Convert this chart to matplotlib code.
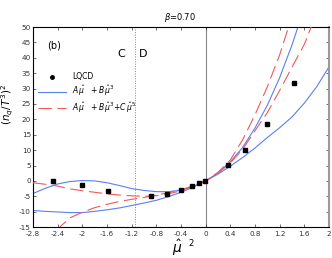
import matplotlib
matplotlib.use("Agg")
import matplotlib.pyplot as plt
from matplotlib.lines import Line2D

# LQCD data points
lqcd_x = [-2.47, -2.0, -1.59, -0.89, -0.63, -0.40, -0.22, -0.11, -0.01, 0.36, 0.64, 1.0, 1.44]
lqcd_y = [0.1, -1.4, -3.3, -4.9, -4.2, -3.0, -1.8, -0.8, 0.1, 5.1, 10.0, 18.4, 31.7]

# Fit A mu + B mu^3 (two bounding curves)
b1_x = [-2.8, -2.6, -2.4, -2.2, -2.0, -1.8, -1.6, -1.4, -1.2, -1.0, -0.8, -0.6, -0.4, -0.2, 0.0,
        0.2, 0.4, 0.6, 0.8, 1.0, 1.2, 1.4, 1.5, 1.55]
b1_y = [-4.1, -2.4, -1.0, -0.2, 0.1, 0.0, -0.6, -1.5, -2.5, -3.1, -3.5, -3.5, -3.0, -1.8, 0.0,
        2.6, 6.2, 10.9, 17.2, 24.6, 33.6, 44.2, 50.3, 53.3]
b2_x = [-2.8, -2.6, -2.4, -2.2, -2.0, -1.8, -1.6, -1.4, -1.2, -1.0, -0.8, -0.6, -0.4, -0.2, 0.0,
        0.2, 0.4, 0.6, 0.8, 1.0, 1.2, 1.4, 1.6, 1.8, 2.0]
b2_y = [-9.6, -9.9, -10.1, -10.3, -10.3, -9.9, -9.4, -8.8, -8.0, -7.2, -6.3, -5.1, -3.7, -2.0, 0.0,
        2.2, 4.8, 7.6, 10.7, 14.1, 17.3, 20.8, 25.3, 30.6, 37.1]

# Fit A mu + B mu^3 + C mu^5 (two bounding curves)
r1_x = [-2.8, -2.6, -2.4, -2.2, -2.0, -1.8, -1.6, -1.4, -1.2, -1.0, -0.8, -0.6, -0.4, -0.2, 0.0,
        0.2, 0.4, 0.6, 0.8, 1.0, 1.2, 1.4, 1.6, 1.72]
r1_y = [-0.6, -1.1, -1.7, -2.6, -3.2, -3.7, -4.2, -4.6, -4.85, -5.0, -4.8, -4.2, -3.2, -1.7, 0.0,
        2.5, 5.8, 10.3, 16.3, 22.2, 29.4, 37.0, 44.4, 50.5]
r2_x = [-2.42, -2.36, -2.2, -2.0, -1.8, -1.6, -1.4, -1.2, -1.0, -0.8, -0.6, -0.4, -0.2, 0.0,
        0.2, 0.4, 0.6, 0.8, 1.0, 1.2, 1.34, 1.37]
r2_y = [-16.2, -14.9, -12.0, -10.2, -8.7, -7.6, -6.7, -6.0, -5.4, -4.6, -3.8, -2.9, -1.6, 0.0,
        2.8, 6.8, 13.4, 21.5, 30.6, 41.0, 49.8, 51.8]

x_ticks = [-2.8, -2.4, -2.0, -1.6, -1.2, -0.8, -0.4, 0.0, 0.4, 0.8, 1.2, 1.6, 2.0]
x_labels = ["-2.8", "-2.4", "-2", "-1.6", "-1.2", "-0.8", "-0.4", "0", "0.4", "0.8", "1.2", "1.6", "2"]
y_ticks = [-15, -10, -5, 0, 5, 10, 15, 20, 25, 30, 35, 40, 45, 50]
y_labels = ["-15", "-10", "-5", "0", "5", "10", "15", "20", "25", "30", "35", "40", "45", "50"]

phase_boundary = -1.15

BLUE = "#5a7ff0"
RED = "#f05a5a"

fig = plt.figure(figsize=(3.32, 2.58), dpi=100)
ax = fig.add_axes([0.0994, 0.120, 0.8916, 0.775])

ax.axvline(0, color="#888888", lw=0.8, zorder=1)
ax.axvline(phase_boundary, color="#888888", lw=0.7, ls=(0, (1, 1.5)), zorder=1)

ax.plot(b1_x, b1_y, color=BLUE, lw=0.8, zorder=2)
ax.plot(b2_x, b2_y, color=BLUE, lw=0.8, zorder=2)
ax.plot(r1_x, r1_y, color=RED, lw=0.8, dashes=(12, 5), zorder=3)
ax.plot(r2_x, r2_y, color=RED, lw=0.8, dashes=(12, 5), zorder=3)
ax.plot(lqcd_x, lqcd_y, ls="none", marker="s", ms=2.2, color="black", zorder=4)

ax.set_xlim(-2.8, 2.0)
ax.set_ylim(-15, 50)
ax.set_xticks(x_ticks)
ax.set_xticklabels(x_labels)
ax.set_yticks(y_ticks)
ax.set_yticklabels(y_labels)
ax.tick_params(direction="in", length=2.5, width=0.5, labelsize=5.2, colors="#333333",
               top=True, right=True, pad=1.5)
ax.tick_params(axis="x", pad=3.0)
for s in ["left", "top", "bottom"]:
    ax.spines[s].set_linewidth(0.8)
    ax.spines[s].set_color("black")
ax.spines["right"].set_color("#999999")
ax.spines["right"].set_linewidth(1.5)

ax.text(0.047, 0.91, "(b)", transform=ax.transAxes, fontsize=7, ha="left", va="center")
ax.text(-1.37, 41.2, "C", fontsize=8, ha="center", va="center")
ax.text(-1.02, 41.2, "D", fontsize=8, ha="center", va="center")

handles = [
    Line2D([], [], ls="none", marker="o", ms=2.5, color="black"),
    Line2D([], [], color=BLUE, lw=0.8),
    Line2D([], [], color=RED, lw=0.8, dashes=(12, 5)),
]
labels = ["LQCD",
          r"$A\,\hat{\mu}\ \ +B\,\hat{\mu}^3$",
          r"$A\,\hat{\mu}\ \ +B\,\hat{\mu}^3\!+\!C\,\hat{\mu}^5$"]
ax.legend(handles, labels, loc="upper left", bbox_to_anchor=(0.0, 0.80), frameon=False,
          fontsize=5.5, handlelength=3.6, handletextpad=0.8, labelspacing=0.3, borderpad=0.2)

fig.text(180 / 332, 1 - 17 / 258, r"$\beta$=0.70", fontsize=6, ha="center", va="center")
fig.text(8 / 332, 1 - 104 / 258, r"$(n_q/T^3)^2$", fontsize=7.5, rotation=90,
         ha="center", va="center")
fig.text(177 / 332, 1 - 248 / 258, r"$\hat{\mu}$", fontsize=10, ha="center", va="center")
fig.text(191 / 332, 1 - 243 / 258, "2", fontsize=6, ha="center", va="center")

fig.savefig("out.png", dpi=100)
